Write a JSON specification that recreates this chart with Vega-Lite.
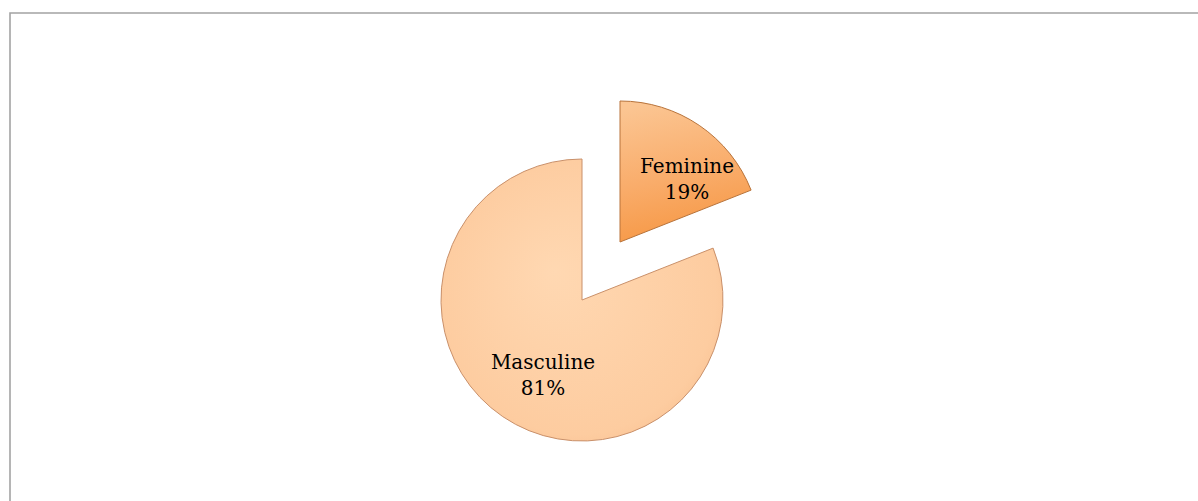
{
  "$schema": "https://vega.github.io/schema/vega-lite/v6.json",
  "width": 1192,
  "height": 492,
  "autosize": "none",
  "padding": {"left": 10, "top": 13, "right": -4, "bottom": -4},
  "background": "white",
  "config": {"view": {"stroke": null}},
  "data": {
    "values": [
      {"gender": "Feminine", "pct": 19, "label": "Feminine\n19%"},
      {"gender": "Masculine", "pct": 81, "label": "Masculine\n81%"}
    ]
  },
  "transform": [
    {"stack": "pct", "groupby": [], "sort": [{"field": "gender", "order": "ascending"}], "as": ["p0", "p1"]}
  ],
  "layer": [
    {
      "transform": [{"filter": "datum.gender == 'Feminine'"}],
      "mark": {"type": "rect", "fill": null, "stroke": "#A3A3A3", "strokeWidth": 1.6},
      "encoding": {
        "x": {"value": 0},
        "x2": {"value": "width"},
        "y": {"value": 0},
        "y2": {"value": "height"}
      }
    },
    {
      "transform": [{"filter": "datum.gender == 'Masculine'"}],
      "mark": {
        "type": "arc",
        "radius": 141,
        "xOffset": -24,
        "yOffset": 41,
        "stroke": "#C9906A",
        "strokeWidth": 1,
        "fill": {
          "gradient": "radial",
          "x1": 0.4, "y1": 0.4, "r1": 0,
          "x2": 0.5, "y2": 0.5, "r2": 0.62,
          "stops": [
            {"offset": 0, "color": "#FFD8B2"},
            {"offset": 0.8, "color": "#FDCCA0"},
            {"offset": 1, "color": "#F7BC8C"}
          ]
        }
      },
      "encoding": {
        "theta": {"field": "p0", "type": "quantitative", "scale": {"domain": [0, 100]}},
        "theta2": {"field": "p1"}
      }
    },
    {
      "transform": [{"filter": "datum.gender == 'Feminine'"}],
      "mark": {
        "type": "arc",
        "radius": 141,
        "xOffset": 14,
        "yOffset": -17,
        "stroke": "#B8733A",
        "strokeWidth": 1,
        "fill": {
          "gradient": "linear",
          "x1": 0.3, "y1": 0, "x2": 0.5, "y2": 1,
          "stops": [
            {"offset": 0, "color": "#FBC592"},
            {"offset": 0.55, "color": "#F9AC6A"},
            {"offset": 1, "color": "#F69743"}
          ]
        }
      },
      "encoding": {
        "theta": {"field": "p0", "type": "quantitative", "scale": {"domain": [0, 100]}},
        "theta2": {"field": "p1"}
      }
    },
    {
      "transform": [{"filter": "datum.gender == 'Feminine'"}],
      "mark": {
        "type": "text",
        "font": "DejaVu Serif",
        "fontSize": 20,
        "lineHeight": 26,
        "lineBreak": "\n",
        "color": "black",
        "align": "center",
        "baseline": "middle",
        "xOffset": 81,
        "yOffset": -92
      },
      "encoding": {"text": {"field": "label"}}
    },
    {
      "transform": [{"filter": "datum.gender == 'Masculine'"}],
      "mark": {
        "type": "text",
        "font": "DejaVu Serif",
        "fontSize": 20,
        "lineHeight": 26,
        "lineBreak": "\n",
        "color": "black",
        "align": "center",
        "baseline": "middle",
        "xOffset": -63,
        "yOffset": 104
      },
      "encoding": {"text": {"field": "label"}}
    }
  ]
}
